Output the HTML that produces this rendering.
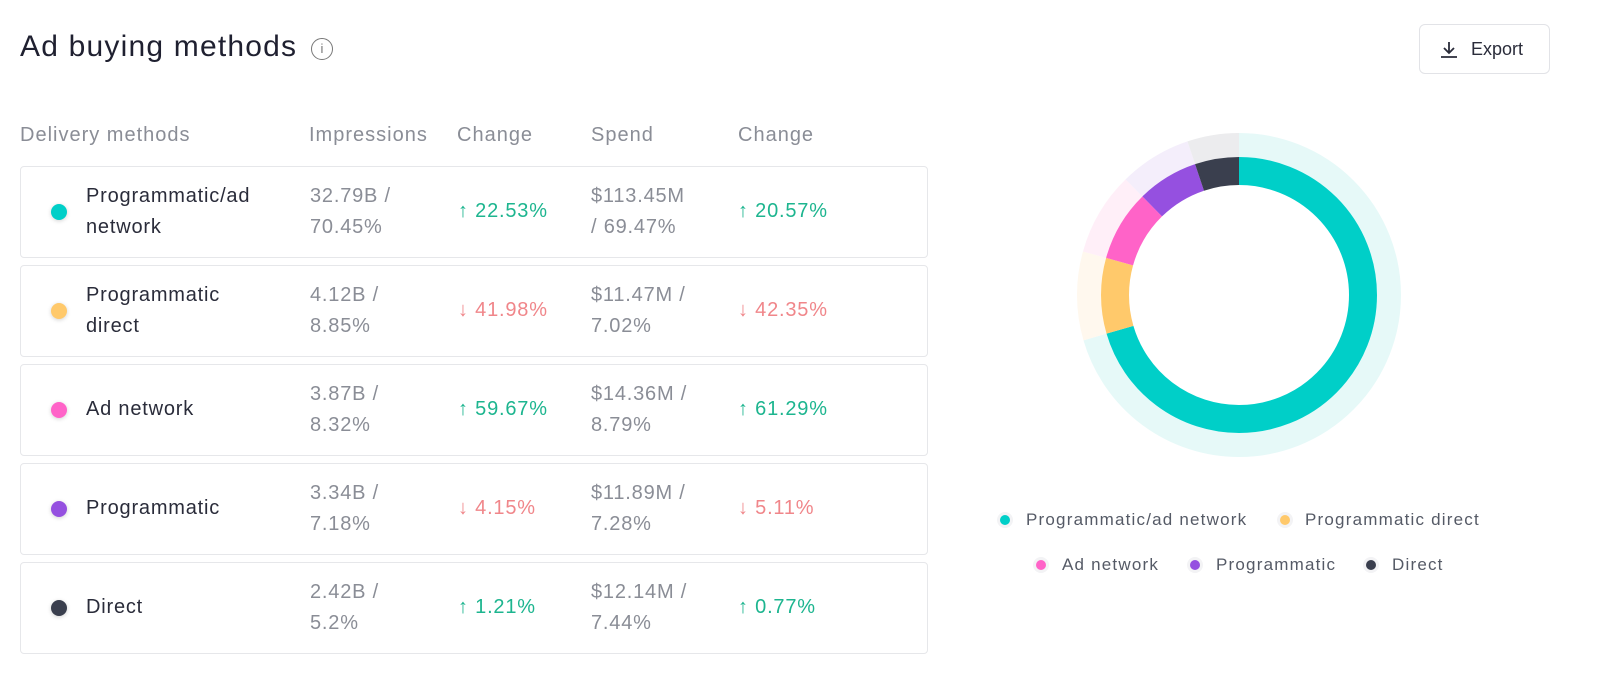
<!DOCTYPE html>
<html><head><meta charset="utf-8"><style>
*{margin:0;padding:0;box-sizing:border-box}
body{width:1600px;height:696px;background:#fff;font-family:"Liberation Sans","DejaVu Sans",sans-serif;position:relative;overflow:hidden}
.a{position:absolute;white-space:nowrap}
.title{left:20px;top:30px;font-size:30px;color:#1f2030;letter-spacing:1.2px}
.info{left:311px;top:38px;width:22px;height:22px;border:1.5px solid #777;border-radius:50%;font-size:13px;color:#777;text-align:center;line-height:19px}
.btn{left:1419px;top:24px;width:131px;height:50px;border:1px solid #e2e3e7;border-radius:6px;font-size:18px;color:#2a2c3a}
.hd{top:124px;font-size:20px;color:#8a8d96;letter-spacing:1px}
.row{left:20px;width:908px;height:92px;border:1px solid #e6e7ea;border-radius:4px}
.dot{width:16px;height:16px;border-radius:50%;box-shadow:0 1px 4px rgba(0,0,0,.18)}
.t{font-size:20px;line-height:31px;letter-spacing:0.8px}
.nm{color:#2a2c3a}
.g{color:#8a8d96}
.up{color:#1db58f}
.dn{color:#f0868a}
.lg{font-size:17px;color:#555a66;letter-spacing:1.2px}
.ld{width:10px;height:10px;border-radius:50%;box-shadow:0 0 0 3px #f3f3f5}
</style></head><body>
<div class="a title">Ad buying methods</div>
<div class="a info">i</div>
<div class="a btn"><svg style="position:absolute;left:19px;top:15px" width="20" height="20" viewBox="0 0 20 20"><path d="M10 2v11M5 8l5 5 5-5M2 17h16" stroke="#2a2c3a" stroke-width="1.8" fill="none"/></svg><span style="position:absolute;left:51px;top:14px">Export</span></div>

<div class="a hd" style="left:20px">Delivery methods</div>
<div class="a hd" style="left:309px">Impressions</div>
<div class="a hd" style="left:457px">Change</div>
<div class="a hd" style="left:591px">Spend</div>
<div class="a hd" style="left:738px">Change</div>

<div class="a row" style="top:166px"></div>
<div class="a dot" style="left:51px;top:204px;background:#00cfc8"></div>
<div class="a t nm" style="left:86px;top:181px">Programmatic/ad<br>network</div>
<div class="a t g" style="left:310px;top:181px">32.79B /<br>70.45%</div>
<div class="a t up" style="left:458px;top:196px">↑ 22.53%</div>
<div class="a t g" style="left:591px;top:181px">$113.45M<br>/ 69.47%</div>
<div class="a t up" style="left:738px;top:196px">↑ 20.57%</div>

<div class="a row" style="top:265px"></div>
<div class="a dot" style="left:51px;top:303px;background:#ffc96b"></div>
<div class="a t nm" style="left:86px;top:280px">Programmatic<br>direct</div>
<div class="a t g" style="left:310px;top:280px">4.12B /<br>8.85%</div>
<div class="a t dn" style="left:458px;top:295px">↓ 41.98%</div>
<div class="a t g" style="left:591px;top:280px">$11.47M /<br>7.02%</div>
<div class="a t dn" style="left:738px;top:295px">↓ 42.35%</div>

<div class="a row" style="top:364px"></div>
<div class="a dot" style="left:51px;top:402px;background:#ff63c8"></div>
<div class="a t nm" style="left:86px;top:394px">Ad network</div>
<div class="a t g" style="left:310px;top:379px">3.87B /<br>8.32%</div>
<div class="a t up" style="left:458px;top:394px">↑ 59.67%</div>
<div class="a t g" style="left:591px;top:379px">$14.36M /<br>8.79%</div>
<div class="a t up" style="left:738px;top:394px">↑ 61.29%</div>

<div class="a row" style="top:463px"></div>
<div class="a dot" style="left:51px;top:501px;background:#9550e0"></div>
<div class="a t nm" style="left:86px;top:493px">Programmatic</div>
<div class="a t g" style="left:310px;top:478px">3.34B /<br>7.18%</div>
<div class="a t dn" style="left:458px;top:493px">↓ 4.15%</div>
<div class="a t g" style="left:591px;top:478px">$11.89M /<br>7.28%</div>
<div class="a t dn" style="left:738px;top:493px">↓ 5.11%</div>

<div class="a row" style="top:562px"></div>
<div class="a dot" style="left:51px;top:600px;background:#3a3f4e"></div>
<div class="a t nm" style="left:86px;top:592px">Direct</div>
<div class="a t g" style="left:310px;top:577px">2.42B /<br>5.2%</div>
<div class="a t up" style="left:458px;top:592px">↑ 1.21%</div>
<div class="a t g" style="left:591px;top:577px">$12.14M /<br>7.44%</div>
<div class="a t up" style="left:738px;top:592px">↑ 0.77%</div>

<svg class="a" style="left:1069px;top:125px" width="340" height="340" viewBox="0 0 340 340">
<g transform="rotate(-90 170 170)" fill="none">
<circle cx="170" cy="170" r="150" stroke="#e6f9f8" stroke-width="24" stroke-dasharray="664 942.5" stroke-dashoffset="0"/>
<circle cx="170" cy="170" r="150" stroke="#fff8ee" stroke-width="24" stroke-dasharray="83.4 942.5" stroke-dashoffset="-664"/>
<circle cx="170" cy="170" r="150" stroke="#ffeff8" stroke-width="24" stroke-dasharray="78.4 942.5" stroke-dashoffset="-747.4"/>
<circle cx="170" cy="170" r="150" stroke="#f4eefb" stroke-width="24" stroke-dasharray="67.7 942.5" stroke-dashoffset="-825.8"/>
<circle cx="170" cy="170" r="150" stroke="#ececee" stroke-width="24" stroke-dasharray="49 942.5" stroke-dashoffset="-893.5"/>
<circle cx="170" cy="170" r="124" stroke="#00cfc8" stroke-width="28" stroke-dasharray="548.9 779.1" stroke-dashoffset="0"/>
<circle cx="170" cy="170" r="124" stroke="#ffc96b" stroke-width="28" stroke-dasharray="69 779.1" stroke-dashoffset="-548.9"/>
<circle cx="170" cy="170" r="124" stroke="#ff63c8" stroke-width="28" stroke-dasharray="64.8 779.1" stroke-dashoffset="-617.9"/>
<circle cx="170" cy="170" r="124" stroke="#9550e0" stroke-width="28" stroke-dasharray="55.9 779.1" stroke-dashoffset="-682.7"/>
<circle cx="170" cy="170" r="124" stroke="#3a3f4e" stroke-width="28" stroke-dasharray="40.5 779.1" stroke-dashoffset="-738.6"/>
</g></svg>

<div class="a ld" style="left:1000px;top:515px;background:#00cfc8"></div>
<div class="a lg" style="left:1026px;top:510px">Programmatic/ad network</div>
<div class="a ld" style="left:1280px;top:515px;background:#ffc96b"></div>
<div class="a lg" style="left:1305px;top:510px">Programmatic direct</div>
<div class="a ld" style="left:1036px;top:560px;background:#ff63c8"></div>
<div class="a lg" style="left:1062px;top:555px">Ad network</div>
<div class="a ld" style="left:1190px;top:560px;background:#9550e0"></div>
<div class="a lg" style="left:1216px;top:555px">Programmatic</div>
<div class="a ld" style="left:1366px;top:560px;background:#3a3f4e"></div>
<div class="a lg" style="left:1392px;top:555px">Direct</div>
</body></html>
